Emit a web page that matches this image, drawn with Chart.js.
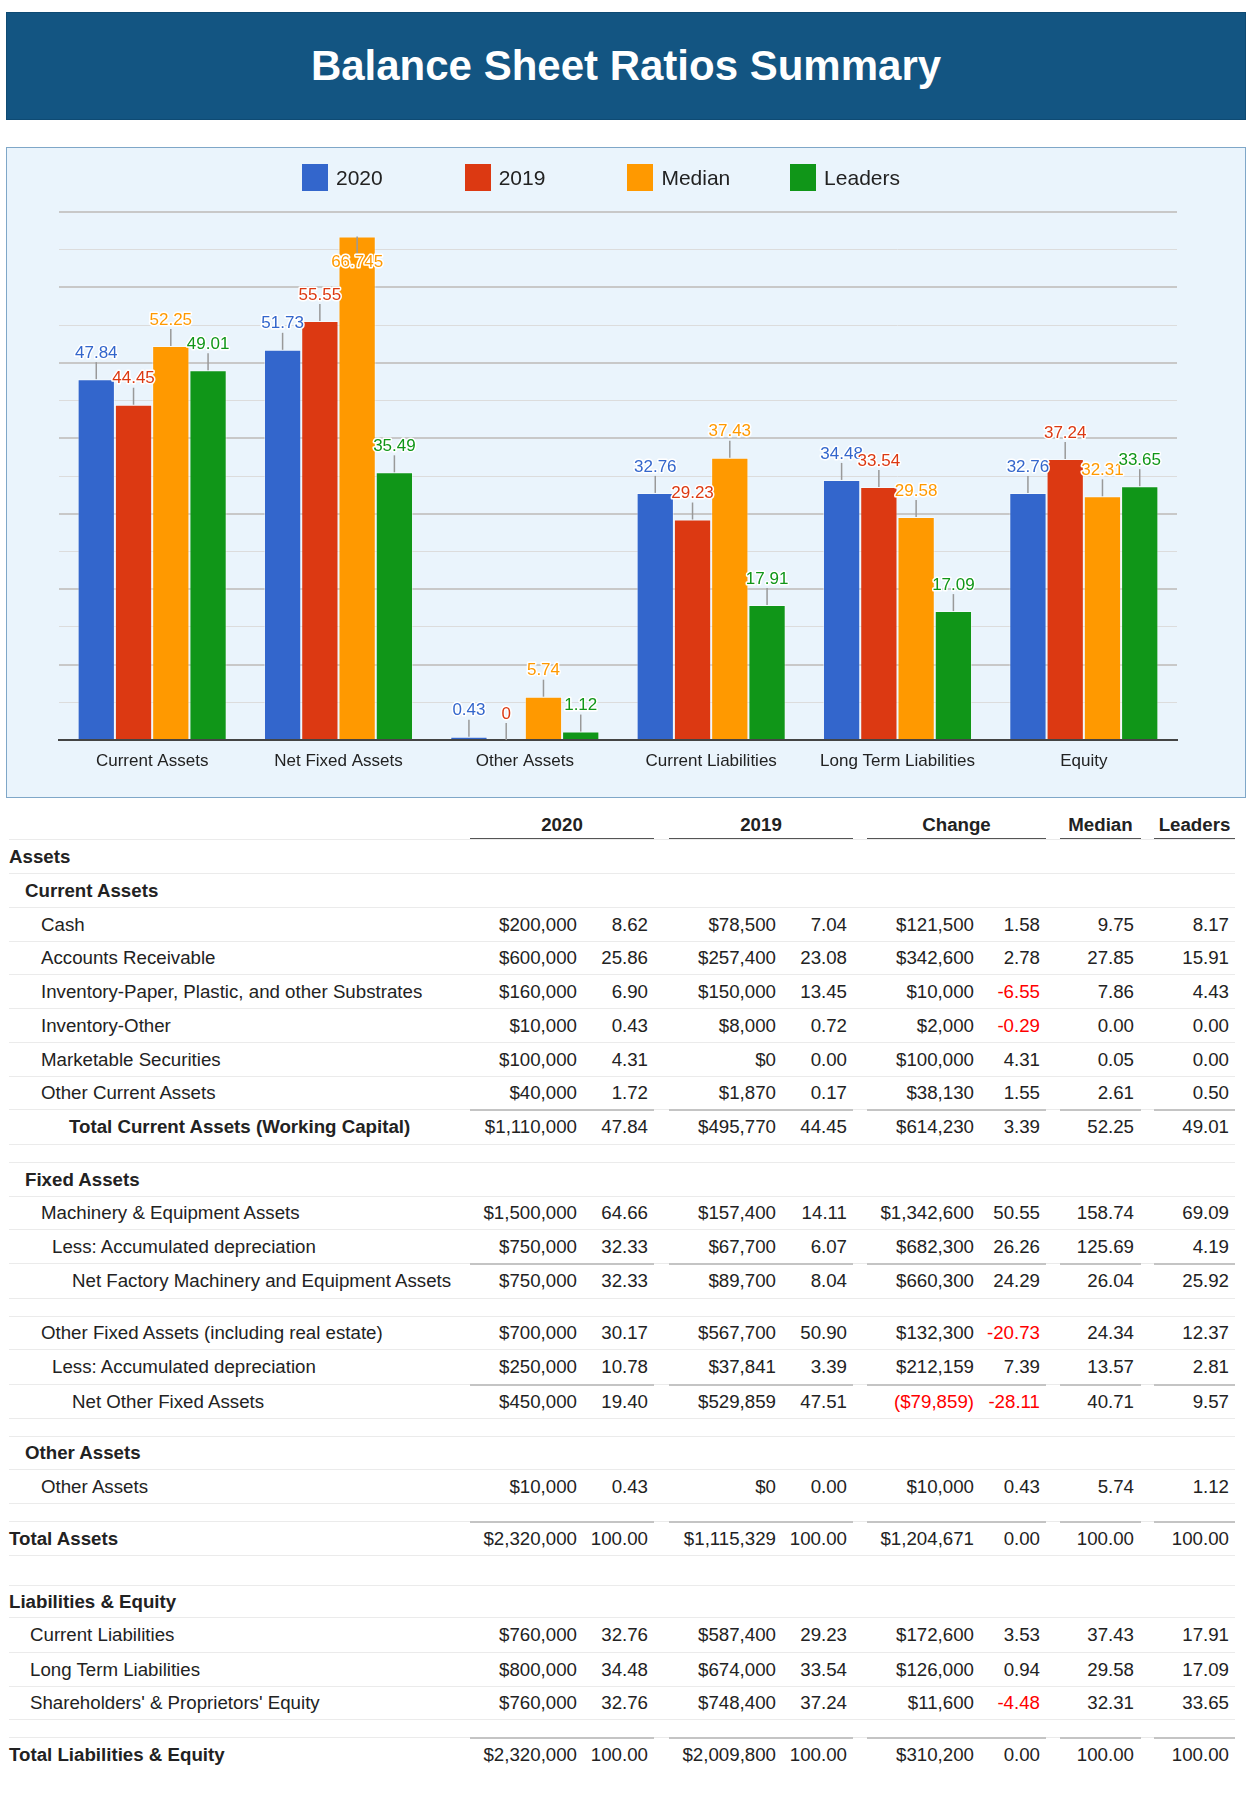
<!DOCTYPE html>
<html>
<head>
<meta charset="utf-8">
<title>Balance Sheet Ratios Summary</title>
<script src="https://cdn.jsdelivr.net/npm/chart.js@4.4.1/dist/chart.umd.min.js"></script>
<style>
  body { margin: 0; background: #fff; font-family: Arial, "Liberation Sans", sans-serif; color: #222; }
  #page { position: relative; width: 1256px; height: 1800px; }
  #header {
    position: absolute; left: 6px; top: 12px; width: 1240px; height: 108px; box-sizing: border-box;
    background: #135582; border: 1px solid #0e4a73; color: #fff;
    font-weight: bold; font-size: 42px; text-align: center; line-height: 106px;
  }
  #chartBox {
    position: absolute; left: 6px; top: 147px; width: 1240px; height: 651px; box-sizing: border-box;
    background: #eaf4fc; border: 1px solid #7fa7c8;
  }
  #chartBox canvas { position: absolute; left: 0; top: 0; }
  .legend-item { position: absolute; top: 16px; height: 27px; }
  .legend-box { position: absolute; left: 0; top: 0; width: 26px; height: 27px; }
  .legend-text { position: absolute; left: 34px; top: 0; line-height: 27px; font-size: 21px; color: #222; white-space: nowrap; }
  .row { position: absolute; left: 9px; width: 1226px; border-bottom: 1px solid #ebebeb; box-sizing: border-box; font-size: 18.7px; }
  .row.last { border-bottom: none; }
  .cell { position: absolute; top: 0; white-space: nowrap; }
  .num { text-align: right; width: 200px; }
  .neg { color: #f00; }
  .bold { font-weight: bold; }
  .sub { position: absolute; top: -1px; height: 2px; background: #c4c4c4; }
  .hdr { position: absolute; top: 797px; height: 42px; font-size: 18.7px; font-weight: bold; text-align: center; line-height: 56px; }
  .hdr-line { position: absolute; top: 838px; height: 2px; background: #555; }
</style>
</head>
<body>
<div id="page">
  <div id="header">Balance Sheet Ratios Summary</div>
  <div id="chartBox">
    <canvas id="ratioChart" width="1238" height="649"></canvas>
    <div id="legend"></div>
  </div>
  <div id="table"></div>
</div>
<script>
// chart data
const categories = ['Current Assets', 'Net Fixed Assets', 'Other Assets', 'Current Liabilities', 'Long Term Liabilities', 'Equity'];
const values2020 = [47.84, 51.73, 0.43, 32.76, 34.48, 32.76];
const values2019 = [44.45, 55.55, 0, 29.23, 33.54, 37.24];
const valuesMedian = [52.25, 66.745, 5.74, 37.43, 29.58, 32.31];
const valuesLeaders = [49.01, 35.49, 1.12, 17.91, 17.09, 33.65];
const seriesNames = ['2020', '2019', 'Median', 'Leaders'];
const seriesValues = [values2020, values2019, valuesMedian, valuesLeaders];
const seriesColors = ['#3366cc', '#dc3912', '#ff9900', '#109618'];
const yMax = 70;
const yStep = 5;

// table data
const groupNames = ['2020', '2019', 'Change', 'Median', 'Leaders'];
const tableRows = [
    ['Assets', 0, 'bold'],
    ['Current Assets', 1, 'bold'],
    ['Cash', 2, '', ['$200,000', '8.62', '$78,500', '7.04', '$121,500', '1.58', '9.75', '8.17']],
    ['Accounts Receivable', 2, '', ['$600,000', '25.86', '$257,400', '23.08', '$342,600', '2.78', '27.85', '15.91']],
    ['Inventory-Paper, Plastic, and other Substrates', 2, '', ['$160,000', '6.90', '$150,000', '13.45', '$10,000', '-6.55', '7.86', '4.43']],
    ['Inventory-Other', 2, '', ['$10,000', '0.43', '$8,000', '0.72', '$2,000', '-0.29', '0.00', '0.00']],
    ['Marketable Securities', 2, '', ['$100,000', '4.31', '$0', '0.00', '$100,000', '4.31', '0.05', '0.00']],
    ['Other Current Assets', 2, '', ['$40,000', '1.72', '$1,870', '0.17', '$38,130', '1.55', '2.61', '0.50']],
    ['Total Current Assets (Working Capital)', 5, 'bold sub', ['$1,110,000', '47.84', '$495,770', '44.45', '$614,230', '3.39', '52.25', '49.01']],
    null,
    ['Fixed Assets', 1, 'bold'],
    ['Machinery & Equipment Assets', 2, '', ['$1,500,000', '64.66', '$157,400', '14.11', '$1,342,600', '50.55', '158.74', '69.09']],
    ['Less: Accumulated depreciation', 3, '', ['$750,000', '32.33', '$67,700', '6.07', '$682,300', '26.26', '125.69', '4.19']],
    ['Net Factory Machinery and Equipment Assets', 4, 'sub', ['$750,000', '32.33', '$89,700', '8.04', '$660,300', '24.29', '26.04', '25.92']],
    null,
    ['Other Fixed Assets (including real estate)', 2, '', ['$700,000', '30.17', '$567,700', '50.90', '$132,300', '-20.73', '24.34', '12.37']],
    ['Less: Accumulated depreciation', 3, '', ['$250,000', '10.78', '$37,841', '3.39', '$212,159', '7.39', '13.57', '2.81']],
    ['Net Other Fixed Assets', 4, 'sub', ['$450,000', '19.40', '$529,859', '47.51', '($79,859)', '-28.11', '40.71', '9.57']],
    null,
    ['Other Assets', 1, 'bold'],
    ['Other Assets', 2, '', ['$10,000', '0.43', '$0', '0.00', '$10,000', '0.43', '5.74', '1.12']],
    null,
    ['Total Assets', 0, 'bold sub', ['$2,320,000', '100.00', '$1,115,329', '100.00', '$1,204,671', '0.00', '100.00', '100.00']],
    'wide',
    ['Liabilities & Equity', 0, 'bold'],
    ['Current Liabilities', 6, '', ['$760,000', '32.76', '$587,400', '29.23', '$172,600', '3.53', '37.43', '17.91']],
    ['Long Term Liabilities', 6, '', ['$800,000', '34.48', '$674,000', '33.54', '$126,000', '0.94', '29.58', '17.09']],
    ["Shareholders' & Proprietors' Equity", 6, '', ['$760,000', '32.76', '$748,400', '37.24', '$11,600', '-4.48', '32.31', '33.65']],
    null,
    ['Total Liabilities & Equity', 0, 'bold sub', ['$2,320,000', '100.00', '$2,009,800', '100.00', '$310,200', '0.00', '100.00', '100.00']]
];

// layout of the table
const indents = [9, 25, 41, 52, 72, 69, 30];
const groupSpans = [[470, 654], [669, 853], [867, 1046], [1060, 1141], [1154, 1235]];
const colRights = [577, 648, 776, 847, 974, 1040, 1134, 1229];
const rowHeights = [34, 34, 34, 33, 34, 34, 34, 33, 35, 18, 34, 33, 34, 35, 18, 33, 35, 34, 18, 33, 34, 18, 34, 30, 32, 35, 34, 33, 18, 34];

// legend
const legend = document.getElementById('legend');
seriesNames.forEach((name, i) => {
    const item = document.createElement('div');
    item.className = 'legend-item';
    item.style.left = (295 + i * 162.7) + 'px';
    item.innerHTML = '<div class="legend-box" style="background:' + seriesColors[i] + '"></div><div class="legend-text">' + name + '</div>';
    legend.appendChild(item);
});

// value labels with a short stem, google style
const barLabels = {
    id: 'barLabels',
    afterDatasetsDraw(chart) {
        const ctx = chart.ctx;
        const area = chart.chartArea;
        ctx.save();
        ctx.font = '17px Arial, "Liberation Sans", sans-serif';
        ctx.textAlign = 'center';
        ctx.textBaseline = 'middle';
        ctx.lineJoin = 'round';
        chart.data.datasets.forEach((ds, i) => {
            chart.getDatasetMeta(i).data.forEach((bar, j) => {
                const dir = (bar.y - 36 >= area.top) ? -1 : 1;
                ctx.strokeStyle = '#999';
                ctx.lineWidth = 1.5;
                ctx.beginPath();
                ctx.moveTo(bar.x, bar.y);
                ctx.lineTo(bar.x, bar.y + dir * 17);
                ctx.stroke();
                const txt = String(ds.data[j]);
                const ty = bar.y + dir * 26;
                ctx.strokeStyle = '#fff';
                ctx.lineWidth = 3;
                ctx.strokeText(txt, bar.x, ty);
                ctx.fillStyle = ds.backgroundColor;
                ctx.fillText(txt, bar.x, ty);
            });
        });
        ctx.restore();
    }
};

const ctxRatio = document.getElementById('ratioChart').getContext('2d');
const ratioChart = new Chart(ctxRatio, {
    type: 'bar',
    data: {
        labels: categories,
        datasets: seriesNames.map((name, i) => ({
            label: name,
            data: seriesValues[i],
            backgroundColor: seriesColors[i],
            borderColor: 'rgba(255,255,255,0.45)',
            borderWidth: 1,
            categoryPercentage: 0.8,
            barPercentage: 1.0
        }))
    },
    options: {
        responsive: false,
        animation: false,
        layout: { padding: { left: 52, right: 68, top: 64, bottom: 0 } },
        plugins: { legend: { display: false }, tooltip: { enabled: false } },
        scales: {
            x: {
                grid: { display: false, drawTicks: false },
                border: { display: true, color: '#444', width: 2 },
                ticks: { color: '#222', padding: 11, font: { size: 17, family: 'Arial, "Liberation Sans", sans-serif' } },
                afterFit: s => { s.height = 57; }
            },
            y: {
                min: 0,
                max: yMax,
                ticks: { display: false, stepSize: yStep },
                border: { display: false },
                grid: {
                    drawTicks: false,
                    color: c => c.tick.value === 0 ? 'rgba(0,0,0,0)' : (c.tick.value % 10 === 0 ? '#c8c8c8' : '#dcdcdc'),
                    lineWidth: c => c.tick.value % 10 === 0 ? 2 : 1
                },
                afterFit: s => { s.width = 0; }
            }
        }
    },
    plugins: [barLabels]
});

// table
const table = document.getElementById('table');
groupNames.forEach((name, g) => {
    const [a, b] = groupSpans[g];
    const h = document.createElement('div');
    h.className = 'hdr';
    h.style.left = a + 'px';
    h.style.width = (b - a) + 'px';
    h.textContent = name;
    table.appendChild(h);
    const line = document.createElement('div');
    line.className = 'hdr-line';
    line.style.left = a + 'px';
    line.style.width = (b - a) + 'px';
    table.appendChild(line);
});
const headLine = document.createElement('div');
headLine.className = 'row';
headLine.style.top = '797px';
headLine.style.height = '43px';
table.appendChild(headLine);

let rowTop = 840;
tableRows.forEach((r, k) => {
    const h = rowHeights[k];
    const row = document.createElement('div');
    row.className = 'row' + (k === tableRows.length - 1 ? ' last' : '');
    row.style.top = rowTop + 'px';
    row.style.height = h + 'px';
    row.style.lineHeight = (h - 1) + 'px';
    if (Array.isArray(r)) {
        const [label, level, cls, vals] = r;
        const lab = document.createElement('div');
        lab.className = 'cell' + (cls.includes('bold') ? ' bold' : '');
        lab.style.left = (indents[level] - 9) + 'px';
        lab.textContent = label;
        row.appendChild(lab);
        if (vals) {
            vals.forEach((v, c) => {
                const cell = document.createElement('div');
                cell.className = 'cell num' + (/^[-(]/.test(v) ? ' neg' : '');
                cell.style.left = (colRights[c] - 9 - 200) + 'px';
                cell.textContent = v;
                row.appendChild(cell);
            });
        }
        if (cls.includes('sub')) {
            groupSpans.forEach(([a, b]) => {
                const s = document.createElement('div');
                s.className = 'sub';
                s.style.left = (a - 9) + 'px';
                s.style.width = (b - a) + 'px';
                row.appendChild(s);
            });
        }
    }
    table.appendChild(row);
    rowTop += h;
});
</script>
</body>
</html>
